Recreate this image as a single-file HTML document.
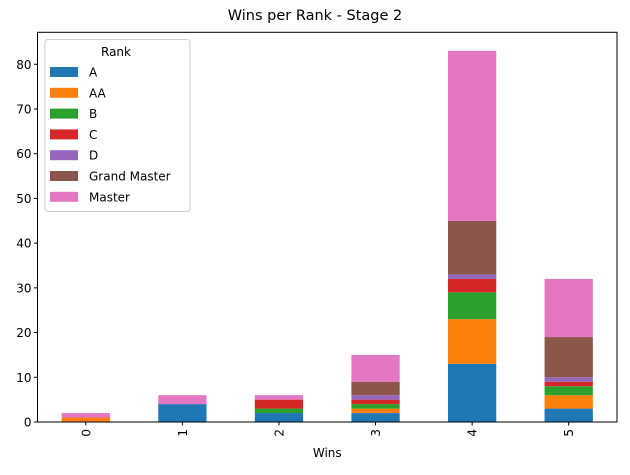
<!DOCTYPE html>
<html><head><meta charset="utf-8"><style>
body{margin:0;background:#fff;font-family:"Liberation Sans","DejaVu Sans",sans-serif}
svg text{font-family:"DejaVu Sans","Liberation Sans",sans-serif}
</style></head><body>
<svg id="chart" width="630" height="470" xmlns="http://www.w3.org/2000/svg"></svg>
<script>
const categories = ["0","1","2","3","4","5"];
const seriesNames = ["A","AA","B","C","D","Grand Master","Master"];
const colors = ["#1f77b4","#ff7f0e","#2ca02c","#d62728","#9467bd","#8c564b","#e377c2"];
const sA = [0,4,2,2,13,3];
const sAA = [1,0,0,1,10,3];
const sB = [0,0,1,1,6,2];
const sC = [0,0,2,1,3,1];
const sD = [0,0,0,1,1,1];
const sGM = [0,0,0,3,12,9];
const sMaster = [1,2,1,6,38,13];
const yTicks = [0,10,20,30,40,50,60,70,80];

const series = [sA,sAA,sB,sC,sD,sGM,sMaster];
const svg = document.getElementById('chart');
const NS = "http://www.w3.org/2000/svg";
const L=37.5,R=617,T=32.3,B=422;
const totals = categories.map((c,i)=>series.reduce((s,a)=>s+a[i],0));
const yMax = Math.max(...totals)*1.05;
const y = v => B - v/yMax*(B-T);
const x = i => L + (i+0.5)/categories.length*(R-L);
const bw = 0.5*(R-L)/categories.length;
function el(tag, attrs, text){const e=document.createElementNS(NS,tag);for(const k in attrs)e.setAttribute(k,attrs[k]);if(text!==undefined)e.textContent=text;svg.appendChild(e);return e;}

categories.forEach((c,i)=>{
  let base=0;
  series.forEach((s,j)=>{
    if(s[i]>0){
      const r=el('rect',{x:x(i)-bw/2,y:y(base+s[i]),width:bw,height:y(base)-y(base+s[i]),fill:colors[j]});
      
      
    }
    base+=s[i];
  });
});
const frame=el('rect',{x:L,y:T,width:R-L,height:B-T,fill:'none',stroke:'#000','stroke-width':1});


yTicks.forEach(t=>{
  const ln=el('line',{x1:L-3.5,x2:L,y1:y(t),y2:y(t),stroke:'#000'});
  
  
  const tx=el('text',{x:L-6,y:y(t)+4.5,'text-anchor':'end','font-size':12},t);
  
  
});
categories.forEach((c,i)=>{
  const ln=el('line',{x1:x(i),x2:x(i),y1:B,y2:B+3.5,stroke:'#000'});
  
  
  const tx=el('text',{x:0,y:0,'font-size':12,'text-anchor':'end',transform:`translate(${x(i)+4.5},${B+7}) rotate(-90)`},c);
  
  
});
const xt=el('text',{x:(L+R)/2,y:457,'text-anchor':'middle','font-size':12},'Wins');


const tt=el('text',{x:315,y:20,'text-anchor':'middle','font-size':14.5},'Wins per Rank - Stage 2');


const lg=el('rect',{x:45,y:39.5,width:145,height:172,rx:3,fill:'#fff',stroke:'#ccc'});


const lt=el('text',{x:116,y:56,'text-anchor':'middle','font-size':12},'Rank');


seriesNames.forEach((n,j)=>{
  const yy=72+j*20.8;
  const sw=el('rect',{x:50,y:yy-5,width:28,height:10,fill:colors[j]});
  
  
  const tx=el('text',{x:89,y:yy+4.5,'font-size':12},n);
  
  
});
</script>
</body></html>
